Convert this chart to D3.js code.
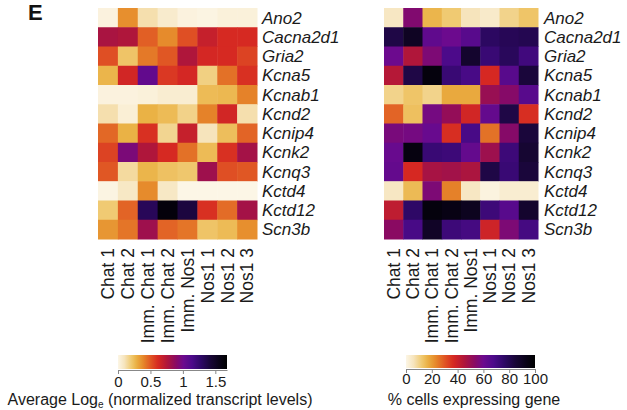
<!DOCTYPE html>
<html>
<head>
<meta charset="utf-8">
<script src="https://cdn.jsdelivr.net/npm/d3@7"></script>
<style>
  html, body { margin: 0; padding: 0; background: #fff; }
  svg { display: block; font-family: "Liberation Sans", Arial, sans-serif; }
</style>
</head>
<body>
<svg id="fig" width="627" height="410"></svg>
<script>
// Samples (columns) and genes (rows)
const samples = ["Chat 1", "Chat 2", "Imm. Chat 1", "Imm. Chat 2", "Imm. Nos1", "Nos1 1", "Nos1 2", "Nos1 3"];
const genes = ["Ano2", "Cacna2d1", "Gria2", "Kcna5", "Kcnab1", "Kcnd2", "Kcnip4", "Kcnk2", "Kcnq3", "Kctd4", "Kctd12", "Scn3b"];

// Average log_e normalized transcript level, one row per gene
const logLevels = [
  [0.02, 0.37, 0.12, 0.06, 0.02, 0.01, 0.03, 0.03],
  [0.78, 0.76, 0.48, 0.38, 0.52, 0.68, 0.62, 0.62],
  [0.52, 0.22, 0.42, 0.50, 0.76, 0.63, 0.62, 0.55],
  [0.27, 0.64, 1.05, 0.58, 0.63, 0.18, 0.44, 0.60],
  [0.02, 0.02, 0.03, 0.05, 0.05, 0.25, 0.26, 0.40],
  [0.12, 0.04, 0.28, 0.25, 0.17, 0.40, 0.64, 0.12],
  [0.46, 0.28, 0.60, 0.16, 0.68, 0.10, 0.24, 0.47],
  [0.55, 0.95, 0.76, 0.62, 0.44, 0.25, 0.60, 0.80],
  [0.50, 0.14, 0.27, 0.23, 0.21, 0.82, 0.52, 0.50],
  [0.01, 0.08, 0.38, 0.08, 0.00, 0.00, 0.00, 0.00],
  [0.20, 0.47, 1.32, 1.62, 1.40, 0.60, 0.45, 0.80],
  [0.35, 0.43, 0.82, 0.47, 0.43, 0.22, 0.25, 0.37]
];

// Percentage of cells expressing each gene
const pctExpressing = [
  [5, 55, 16, 12, 6, 4, 10, 13],
  [82, 90, 63, 60, 65, 77, 79, 80],
  [60, 45, 56, 68, 87, 73, 78, 71],
  [44, 82, 96, 73, 69, 37, 65, 84],
  [10, 13, 10, 18, 18, 50, 54, 65],
  [28, 14, 58, 51, 38, 62, 82, 36],
  [57, 58, 61, 36, 69, 26, 54, 84],
  [61, 95, 73, 72, 62, 49, 72, 86],
  [62, 37, 47, 48, 46, 82, 73, 84],
  [5, 15, 56, 24, 5, 1, 3, 3],
  [42, 76, 96, 94, 91, 72, 65, 87],
  [53, 69, 89, 72, 70, 39, 56, 70]
];

const logTicks = [0, 0.5, 1, 1.5];
const pctTicks = [0, 20, 40, 60, 80, 100];
const logMax = 1.68;
const pctMax = 100;

// Light-to-dark palette (cream → gold → red → purple → black)
const paletteStops = [0, 0.06, 0.12, 0.17, 0.23, 0.30, 0.37, 0.45, 0.53, 0.60, 0.68, 0.76, 0.85, 0.95, 1];
const paletteColors = ["#fcf6e6", "#f6e4bc", "#f0ca72", "#eab042", "#e6882a", "#e05524", "#d62822",
                       "#b0163a", "#8a0a62", "#6c0a8e", "#4c0a8a", "#2e0866", "#180636", "#060210", "#000000"];
const palette = d3.scaleLinear().domain(paletteStops).range(paletteColors)
  .interpolate(d3.interpolateRgb).clamp(true);

const svg = d3.select("#fig");
const ink = "#1a1a1a";

// Panel letter
svg.append("text").attr("x", 28).attr("y", 20)
  .attr("font-size", 22).attr("font-weight", "bold").attr("fill", "#111").text("E");

function heatmap(opts) {
  const { left, right, top, bottom, values, max, labelX } = opts;
  const x = d3.scaleBand().domain(samples).range([left, right]);
  const y = d3.scaleBand().domain(genes).range([top, bottom]);
  const color = v => palette(v / max);
  const g = svg.append("g");

  const cells = [];
  values.forEach((row, i) => row.forEach((v, j) => cells.push({ gene: genes[i], sample: samples[j], v })));
  g.selectAll("rect").data(cells).join("rect")
    .attr("x", d => x(d.sample))
    .attr("y", d => y(d.gene))
    .attr("width", x.bandwidth() + 0.5)
    .attr("height", y.bandwidth() + 0.5)
    .attr("fill", d => color(d.v));

  // Gene names on the right
  g.selectAll("text.gene").data(genes).join("text")
    .attr("class", "gene")
    .attr("x", labelX)
    .attr("y", d => y(d) + y.bandwidth() / 2)
    .attr("dy", "0.36em")
    .attr("font-size", 17).attr("font-style", "italic").attr("fill", ink)
    .text(d => d);

  // Sample names, rotated, under the map
  g.selectAll("text.sample").data(samples).join("text")
    .attr("class", "sample")
    .attr("transform", d => `translate(${x(d) + x.bandwidth() / 2},${bottom + 9}) rotate(-90)`)
    .attr("dy", "0.36em")
    .attr("text-anchor", "end")
    .attr("font-size", 17.5).attr("fill", ink)
    .text(d => d);
}

function colorbar(opts) {
  const { x0, x1, y0, h, max, ticks, fmt, tickBaseline, title, titleX, titleY, id } = opts;
  const defs = svg.append("defs");
  const grad = defs.append("linearGradient").attr("id", id).attr("x1", "0%").attr("x2", "100%");
  d3.range(0, 1.0001, 0.02).forEach(t => {
    grad.append("stop").attr("offset", `${t * 100}%`).attr("stop-color", palette(t));
  });
  svg.append("rect").attr("x", x0).attr("y", y0).attr("width", x1 - x0).attr("height", h)
    .attr("fill", `url(#${id})`);

  const s = d3.scaleLinear().domain([0, max]).range([x0, x1]);
  const axis = d3.axisBottom(s).tickValues(ticks).tickFormat(fmt).tickSize(4).tickSizeOuter(0);
  const ag = svg.append("g").attr("transform", `translate(0,${y0 + h + 1})`).call(axis);
  ag.select(".domain").attr("stroke", "#888");
  ag.selectAll(".tick line").attr("stroke", "#888");
  ag.selectAll(".tick text").attr("font-size", 15).attr("fill", ink)
    .attr("font-family", "Liberation Sans, Arial, sans-serif")
    .attr("y", tickBaseline - (y0 + h + 1)).attr("dy", 0);

  const t = svg.append("text").attr("x", titleX).attr("y", titleY)
    .attr("text-anchor", "middle").attr("font-size", 16).attr("fill", ink);
  title(t);
}

heatmap({ left: 98, right: 257, top: 8, bottom: 239, values: logLevels, max: logMax, labelX: 262 });
heatmap({ left: 384, right: 538, top: 8, bottom: 239, values: pctExpressing, max: pctMax, labelX: 544 });

colorbar({
  x0: 118, x1: 227, y0: 355, h: 14, max: logMax, ticks: logTicks, fmt: d3.format(""),
  tickBaseline: 387, titleX: 160, titleY: 405, id: "gradLog",
  title: t => {
    t.append("tspan").text("Average Log");
    t.append("tspan").attr("font-size", 10).attr("dy", 3).text("e");
    t.append("tspan").attr("dy", -3).text(" (normalized transcript levels)");
  }
});

colorbar({
  x0: 406, x1: 535, y0: 355, h: 13, max: pctMax, ticks: pctTicks, fmt: d3.format(""),
  tickBaseline: 384, titleX: 474, titleY: 405, id: "gradPct",
  title: t => t.text("% cells expressing gene")
});
</script>
</body>
</html>
